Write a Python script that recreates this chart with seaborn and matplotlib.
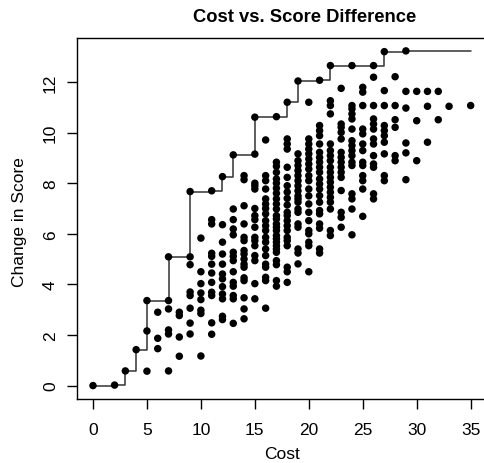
import matplotlib
matplotlib.use("Agg")
import matplotlib.pyplot as plt
import seaborn as sns
import pandas as pd

# ---- data ----
frontier_cost = [0, 2, 3, 4, 5, 7, 9, 11, 12, 13, 15, 17, 18, 19, 21, 22, 24, 26, 27, 29]
frontier_score = [0.0, 0.02, 0.58, 1.42, 3.36, 5.09, 7.67, 7.70, 8.26, 9.12, 10.61, 10.63,
                  11.2, 12.04, 12.07, 12.65, 12.65, 12.65, 13.2, 13.23]
frontier_end_cost = 35

cost_levels = [5, 6, 7, 8, 9, 10, 11, 12, 13, 14, 15, 16, 17, 18, 19, 20, 21, 22, 23, 24,
               25, 26, 27, 28, 29, 30, 31, 32, 33, 35]
score_by_cost = [
    [0.57, 2.16],
    [1.46, 1.87, 2.9],
    [0.58, 2.04, 2.2, 3.03, 3.36],
    [1.16, 1.92, 2.77, 2.9],
    [2.04, 2.47, 3.06, 3.56, 3.7, 4.78, 5.09],
    [1.17, 2.85, 2.98, 3.4, 3.66, 4.03, 4.5, 5.83],
    [2.03, 2.48, 3.56, 3.69, 4.08, 4.45, 4.8, 5.11, 5.23, 6.39, 6.56],
    [2.61, 2.74, 3.43, 3.62, 3.91, 4.22, 4.41, 4.8, 5.2, 5.67, 6.36],
    [2.46, 3.43, 3.56, 3.93, 4.08, 4.5, 4.94, 5.11, 5.27, 5.96, 6.19, 6.56, 6.98],
    [2.64, 3.03, 3.47, 4.15, 4.26, 4.68, 4.8, 5.0, 5.2, 5.34, 5.73, 5.86, 6.39, 7.11, 8.14, 8.3],
    [3.43, 4.03, 4.94, 5.14, 5.53, 5.73, 5.86, 6.26, 6.56, 6.72, 7.0, 7.77, 7.9, 8.0, 9.15],
    [3.06, 4.15, 4.28, 4.68, 4.8, 5.14, 5.4, 5.67, 5.86, 6.13, 6.32, 6.52, 6.79, 7.0, 7.18,
     7.38, 7.77, 8.1, 8.3, 9.71],
    [3.93, 4.15, 4.78, 4.94, 5.27, 5.4, 5.53, 5.67, 5.8, 5.93, 6.13, 6.26, 6.39, 6.59, 6.72,
     6.98, 7.18, 7.38, 7.6, 7.8, 8.0, 8.17, 8.43, 8.67, 8.83],
    [4.08, 4.5, 4.68, 5.53, 5.73, 5.86, 6.13, 6.32, 6.52, 6.72, 6.85, 7.14, 7.4, 7.65, 7.9,
     8.23, 8.63, 9.35, 9.55, 9.75],
    [4.81, 5.24, 5.4, 6.26, 6.39, 6.85, 6.98, 7.25, 7.38, 7.5, 7.7, 7.9, 8.1, 8.3, 8.5, 8.7,
     8.89, 9.16],
    [4.5, 5.53, 5.67, 6.0, 6.13, 6.52, 6.85, 7.18, 7.5, 7.77, 8.1, 8.3, 8.56, 8.76, 8.96,
     9.16, 9.35, 9.55, 9.75, 11.2],
    [5.24, 5.4, 6.22, 6.39, 6.79, 6.92, 7.25, 7.51, 7.77, 7.97, 8.17, 8.43, 8.63, 8.83, 9.02,
     9.22, 9.55, 9.88, 10.08, 10.28],
    [5.93, 6.13, 6.98, 7.25, 7.44, 7.64, 7.84, 8.04, 8.23, 8.43, 8.63, 8.89, 9.09, 9.29, 9.55,
     10.74, 11.07, 11.26],
    [6.26, 6.65, 6.85, 7.71, 8.23, 8.43, 8.63, 8.83, 9.02, 9.22, 9.75, 10.01, 10.21, 10.34, 11.75],
    [5.96, 6.98, 7.38, 7.58, 8.7, 8.83, 9.09, 9.29, 9.49, 9.68, 10.14, 10.54, 10.74, 10.94, 11.07],
    [6.69, 7.77, 8.1, 8.3, 8.7, 8.83, 9.29, 9.55, 9.95, 10.14, 11.07, 11.6, 11.79],
    [7.38, 7.58, 8.63, 8.76, 9.09, 9.55, 9.75, 10.14, 10.34, 10.54, 11.07, 12.19],
    [8.1, 8.3, 9.16, 9.62, 9.88, 10.08, 10.28, 11.07, 11.66],
    [8.89, 9.09, 10.21, 10.51, 11.07, 12.21],
    [8.14, 9.2, 9.59, 10.97, 11.63],
    [8.89, 10.47, 11.63],
    [9.62, 11.04, 11.63],
    [10.51, 11.63],
    [11.04],
    [11.07],
]

x_ticks = [0, 5, 10, 15, 20, 25, 30, 35]
y_ticks = [0, 2, 4, 6, 8, 10, 12]
title = "Cost vs. Score Difference"
x_label = "Cost"
y_label = "Change in Score"

# ---- build tables ----
pts = pd.DataFrame(
    [(c, s) for c, lst in zip(cost_levels, score_by_cost) for s in lst]
    + list(zip(frontier_cost, frontier_score)),
    columns=["cost", "score"],
)
line = pd.DataFrame({
    "cost": frontier_cost + [frontier_end_cost],
    "score": frontier_score + [frontier_score[-1]],
})

sns.set_style("white")
plt.rcParams["font.family"] = ["Liberation Sans", "DejaVu Sans"]
plt.rcParams["text.color"] = "black"
plt.rcParams["xtick.color"] = "black"
plt.rcParams["ytick.color"] = "black"

W, H = 485, 464
fig = plt.figure(figsize=(W / 100, H / 100), dpi=100)
ax = fig.add_axes([76.7 / W, (H - 400) / H, 1 - 76.7 / W, (400 - 39) / H])

sns.lineplot(data=line, x="cost", y="score", ax=ax, color="#333333", linewidth=1.1,
             drawstyle="steps-post", estimator=None, sort=False)
sns.scatterplot(data=pts, x="cost", y="score", ax=ax, color="black", s=29,
                edgecolor="none", linewidth=0, zorder=3)

ax.set_xlim(-1.51, (W - 93) / 10.79)
ax.set_ylim(-0.53, 13.74)
ax.set_xticks(x_ticks)
ax.set_yticks(y_ticks)
ax.set_xlabel("")
ax.set_ylabel("")
ax.tick_params(axis="both", direction="out", length=7.5, width=1, colors="black",
               labelsize=12.5, bottom=True, left=True)
ax.tick_params(axis="x", pad=9)
ax.tick_params(axis="y", pad=6)
for lab in ax.get_yticklabels():
    lab.set_rotation(90)
    lab.set_va("center")
for side in ["left", "bottom", "top"]:
    ax.spines[side].set_visible(True)
    ax.spines[side].set_color("black")
    ax.spines[side].set_linewidth(1)
ax.spines["right"].set_visible(False)

fig.text(305 / W, 1 - 18 / H, title, ha="center", va="center", fontsize=13.2,
         fontweight="bold", color="black")
fig.text(282 / W, 1 - 455 / H, x_label, ha="center", va="center", fontsize=12.5,
         color="black")
fig.text(20 / W, 1 - 222 / H, y_label, ha="center", va="center", fontsize=12.5,
         rotation=90, color="black")

fig.savefig("out.png", dpi=100)
